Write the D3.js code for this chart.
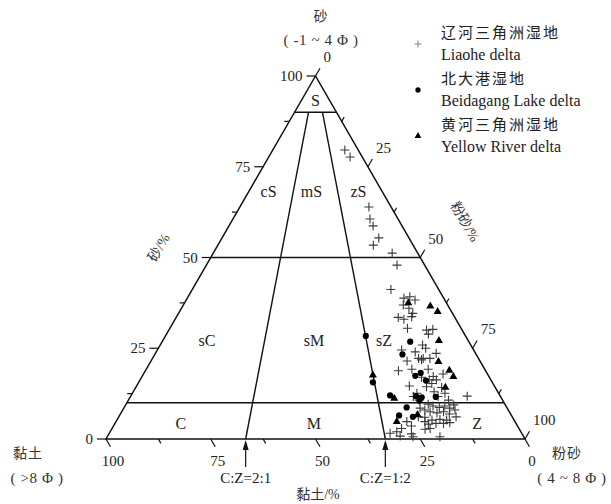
<!DOCTYPE html>
<html><head><meta charset="utf-8">
<script src="https://cdn.jsdelivr.net/npm/d3@7"></script>
<style>body{margin:0;background:#fff}</style>
</head><body><svg id="c" width="611" height="504"></svg>
<script>
// ---- data: [sand %, clay %]; silt = 100 - sand - clay ----
const axisTicks = [0, 25, 50, 75, 100];
const minorTicks = [12.5, 37.5, 62.5, 87.5];
const liaohe = [
 [79.6,3.2],[77.7,2.9],[63.9,5.3],[60.6,6.7],[58.7,6.9],[55.4,7.2],[53.4,9.5],[51.2,6.1],[47.9,6.6],
 [41.2,11.4],[38.8,9.5],[39.2,7.9],[38.3,7.1],[36.9,10.6],[36.0,9.7],[33.5,13.5],[33.0,12.4],[34.6,9.5],[33.7,10.2],
 [30.5,12.8],[30.0,8.5],[30.2,6.9],[28.9,8.6],[25.9,11.5],[25.0,11.2],[24.5,17.2],[24.0,14.2],[23.6,9.4],[22.2,14.3],
 [21.8,13.8],[22.2,11.6],[21.5,17.4],[18.8,20.8],[19.2,17.4],[19.2,13.5],[17.9,10.6],[17.0,16.2],[16.3,14.7],[16.3,13.0],
 [14.6,20.3],[13.0,15.2],[14.2,12.8],[12.6,12.8],[11.7,14.9],[11.8,7.9],[11.7,20.8],[10.7,19.9],[9.6,18.3],[9.1,17.4],
 [8.7,16.1],[9.1,14.6],[8.5,13.7],[9.4,12.3],[7.5,18.9],[7.2,17.4],[7.5,15.7],[6.9,14.6],[6.1,13.4],[6.0,20.9],
 [5.2,19.6],[5.4,17.6],[5.2,16.1],[4.1,21.0],[4.3,19.1],[4.3,17.3],[2.9,21.2],[4.8,25.8],[3.6,25.3],[2.9,28.0],
 [1.6,31.4],[2.0,29.6],[0.8,29.4],[1.4,26.4],[0.6,26.4],[2.7,22.5],[0.6,20.0],[8.5,20.8],[8.0,19.9],[12.6,19.5],
 [14.4,16.3],[15.3,14.6],[10.7,12.9],[8.0,12.7],[4.8,21.5],[4.5,15.7],[6.1,22.4],[22.2,13.2],[17.2,13.3]
];
const beidagang = [
 [28.4,23.8],[26.8,14.0],[23.3,17.6],[18.2,15.8],[17.4,17.5],[16.1,15.6],[15.6,28.5],[12.0,26.2],
 [11.8,20.1],[11.5,18.9],[10.6,19.9],[11.6,15.5],[8.7,23.9],[6.5,26.8],[6.1,23.7]
];
const yellowRiver = [
 [37.5,9.1],[36.6,4.3],[35.1,3.3],[27.1,7.0],[21.3,10.0],[18.9,8.6],[17.2,8.5],[14.2,11.9],
 [17.6,27.5],[11.2,25.6],[6.7,22.3],[4.8,28.2]
];
const sandLines = [90, 50, 10];
const ratioLines = [{r: 2/3, label: "C:Z=2:1"}, {r: 1/3, label: "C:Z=1:2"}];
// region labels: [text, sand %, clay share of (clay+silt)]
const regions = [["S",93,0.5],["cS",68,0.85],["mS",68,0.53],["zS",68,0.18],
                 ["sC",27,0.855],["sM",27,0.505],["sZ",27,0.276],
                 ["C",4,0.835],["M",4,0.504],["Z",4,0.098]];
const legendItems = [
 {type:"cross", zh:"辽河三角洲湿地", en:"Liaohe delta"},
 {type:"dot", zh:"北大港湿地", en:"Beidagang Lake delta"},
 {type:"tri", zh:"黄河三角洲湿地", en:"Yellow River delta"}
];

const svg = d3.select("#c");
const SERIF = "'Liberation Serif','DejaVu Serif',serif";
const CJK = "'Noto Sans CJK SC','Noto Sans CJK JP',sans-serif";
const yS = d3.scaleLinear().domain([0,100]).range([439,76]);   // sand
const xS = d3.scaleLinear().domain([0,100]).range([106,525]);  // silt + sand/2
function pos(sand, clay){ const silt = 100 - sand - clay; return [xS(silt + sand/2), yS(sand)]; }
function posR(sand, r){ return pos(sand, (100 - sand) * r); }
const line = d3.line();

const g = svg.append("g");
// triangle
g.append("path").attr("d", line([pos(100,0), pos(0,100), pos(0,0)]) + "Z")
 .attr("fill","none").attr("stroke","#111").attr("stroke-width",1.5);
// sand lines
sandLines.forEach(s => {
  g.append("path").attr("d", line([pos(s,100-s), pos(s,0)]))
   .attr("stroke","#111").attr("stroke-width",1.4);
});
// ratio lines
ratioLines.forEach(d => {
  g.append("path").attr("d", line([posR(0,d.r), posR(90,d.r)]))
   .attr("stroke","#111").attr("stroke-width",1.4);
  const b = posR(0,d.r);
  g.append("path").attr("d", `M${b[0]},${b[1]+1}l-3,10h6Z`).attr("fill","#111");
  g.append("path").attr("d", line([[b[0],b[1]+10],[b[0],b[1]+28]])).attr("stroke","#111").attr("stroke-width",1.2);
  g.append("text").attr("x", b[0]).attr("y", b[1]+44).attr("text-anchor","middle")
   .attr("font-family",SERIF).attr("font-size",15).attr("fill","#222").text(d.label);
});
// ticks
const allT = axisTicks.map(v=>({v,len:9,major:true})).concat(minorTicks.map(v=>({v,len:5,major:false})));
allT.forEach(t => {
  // sand (left edge)
  let p = pos(t.v, 100 - t.v);
  g.append("path").attr("d", line([p,[p[0]-t.len,p[1]]])).attr("stroke","#111").attr("stroke-width",1.2);
  if (t.major) g.append("text").attr("x",p[0]-13).attr("y",p[1]+5).attr("text-anchor","end")
     .attr("font-family",SERIF).attr("font-size",15).attr("fill","#222").text(t.v);
  // clay (bottom edge)
  p = pos(0, t.v);
  g.append("path").attr("d", line([p,[p[0]+t.len*0.5,p[1]+t.len*0.866]])).attr("stroke","#111").attr("stroke-width",1.2);
  if (t.major) g.append("text").attr("x",p[0]+7).attr("y",p[1]+27).attr("text-anchor","middle")
     .attr("font-family",SERIF).attr("font-size",15).attr("fill","#222").text(t.v);
  // silt (right edge)
  p = pos(100 - t.v, 0);
  g.append("path").attr("d", line([p,[p[0]+t.len*0.5,p[1]-t.len*0.866]])).attr("stroke","#111").attr("stroke-width",1.2);
  if (t.major) g.append("text").attr("x",p[0]+8).attr("y",p[1]-14).attr("text-anchor","start")
     .attr("font-family",SERIF).attr("font-size",15).attr("fill","#222").text(t.v);
});
// region labels
regions.forEach(([t,s,r]) => {
  const p = posR(s,r);
  g.append("text").attr("x",p[0]).attr("y",p[1]+5).attr("text-anchor","middle")
   .attr("font-family",SERIF).attr("font-size",16).attr("fill","#222").text(t);
});
// axis titles
function mixed(sel, parts){ parts.forEach(([txt,fam]) => sel.append("tspan").attr("font-family",fam).text(txt)); }
let tt = g.append("text").attr("transform","translate(163,250) rotate(-60)").attr("text-anchor","middle")
  .attr("font-size",14).attr("fill","#333"); mixed(tt,[["砂",CJK],["/%",SERIF]]);
tt = g.append("text").attr("transform","translate(461,224) rotate(60)").attr("text-anchor","middle")
  .attr("font-size",14).attr("fill","#333"); mixed(tt,[["粉砂",CJK],["/%",SERIF]]);
tt = g.append("text").attr("x",318).attr("y",499).attr("text-anchor","middle")
  .attr("font-size",14).attr("fill","#333"); mixed(tt,[["黏土",CJK],["/%",SERIF]]);
// corner labels
const corner = [["砂",321,21,CJK],["( -1 ~ 4 Φ )",321,45,SERIF],
                ["黏土",28,458,CJK],["( >8 Φ )",37,483,SERIF],
                ["粉砂",567,458,CJK],["( 4 ~ 8 Φ )",572,483,SERIF]];
corner.forEach(([t,x,y,f]) => g.append("text").attr("x",x).attr("y",y).attr("text-anchor","middle")
  .attr("font-family",f).attr("font-size",f===CJK?14:15).attr("letter-spacing",f===CJK?1:0.6)
  .attr("fill","#333").text(t));

// markers
function drawMarker(sel, type, x, y, scale){
  if (type==="cross") sel.append("path").attr("d",`M${x-4.5*scale},${y}H${x+4.5*scale}M${x},${y-4.5*scale}V${y+4.5*scale}`)
     .attr("stroke", scale<1 ? "#888" : "#3a3a3a").attr("stroke-width",1.1).attr("fill","none");
  else if (type==="dot") sel.append("circle").attr("cx",x).attr("cy",y).attr("r",3.1*scale).attr("fill","#000");
  else sel.append("path").attr("d", d3.symbol(d3.symbolTriangle, 28*scale*scale)())
     .attr("transform",`translate(${x},${y})`).attr("fill","#000");
}
const pts = g.append("g");
liaohe.forEach(([s,c]) => { const p = pos(s,c); drawMarker(pts,"cross",p[0],p[1],1); });
yellowRiver.forEach(([s,c]) => { const p = pos(s,c); drawMarker(pts,"tri",p[0],p[1],1); });
beidagang.forEach(([s,c]) => { const p = pos(s,c); drawMarker(pts,"dot",p[0],p[1],1); });

// legend
const lg = svg.append("g");
legendItems.forEach((d,i) => {
  const y0 = 32 + i*46;
  drawMarker(lg, d.type, 418, y0+12, d.type==="cross"?0.8:0.85);
  lg.append("text").attr("x",441).attr("y",y0+6).attr("font-family",CJK).attr("font-size",15)
    .attr("letter-spacing",2).attr("fill","#222").text(d.zh);
  lg.append("text").attr("x",441).attr("y",y0+28).attr("font-family",SERIF).attr("font-size",16)
    .attr("fill","#222").text(d.en);
});
</script></body></html>
